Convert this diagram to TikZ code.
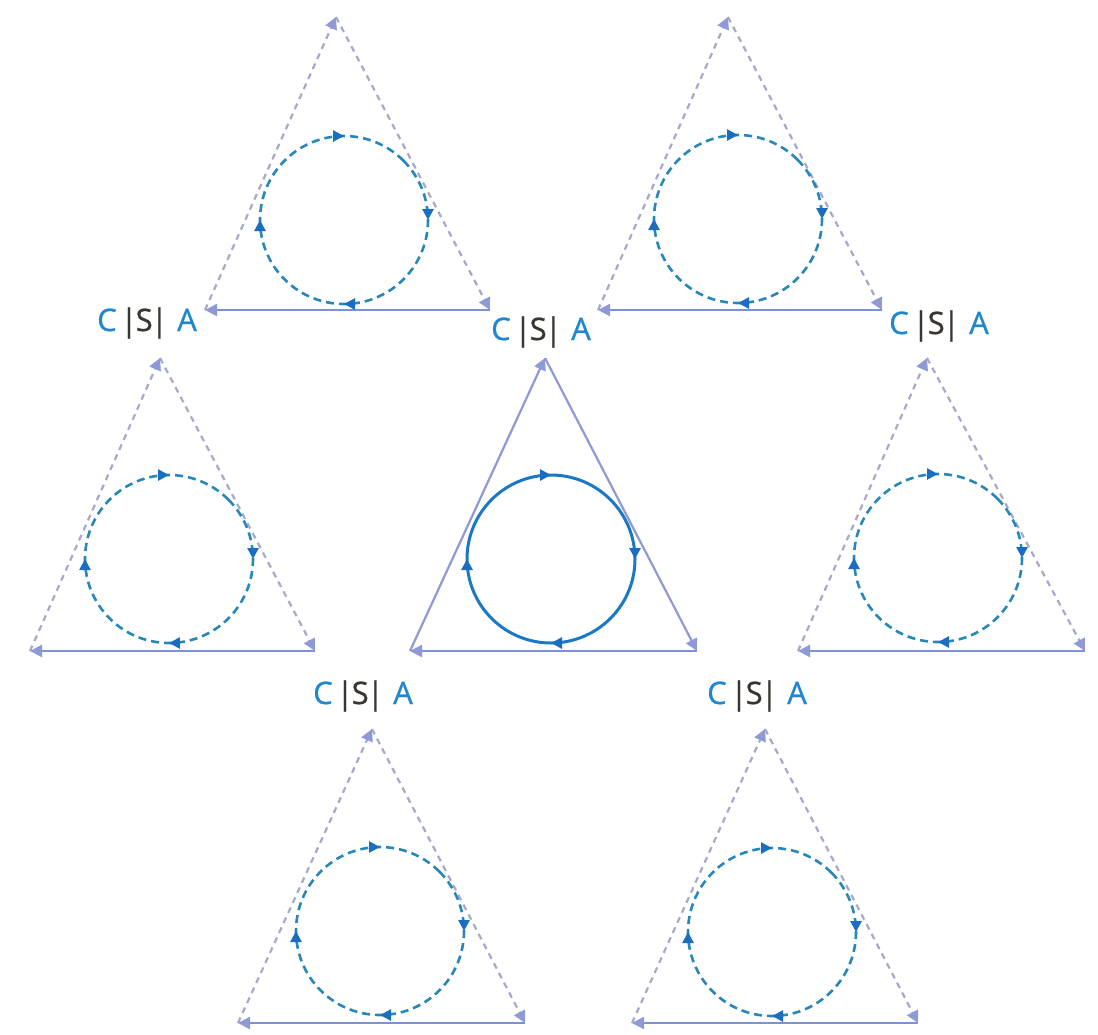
\documentclass[tikz,border=0pt]{standalone}
\usepackage{fontspec}
\setmainfont{Open Sans}
\newfontfamily\labfont[FakeBold=0.8]{Open Sans}
\usetikzlibrary{arrows.meta,decorations.markings}
\definecolor{lav}{HTML}{8E99D6}
\definecolor{lavgrey}{HTML}{A6A8CC}
\definecolor{botblue}{HTML}{7C92D8}
\definecolor{cblue}{HTML}{1B78C4}
\definecolor{dblue}{HTML}{2787B8}
\definecolor{tipblue}{HTML}{1A6EC2}
\definecolor{lblue}{HTML}{1F86D0}
\definecolor{sdark}{HTML}{3A3530}
\tikzset{
  tip/.style={-{Triangle[length=6pt,width=6pt,fill=lav,color=lav]}},
  solidedge/.style={draw=lav,line width=1.1pt,tip},
  dashedge/.style={draw=lavgrey,line width=1.1pt,dash pattern=on 3pt off 2.5pt,tip},
  baseedge/.style={draw=botblue,line width=1.1pt,tip},
  cycmarks/.style={postaction={decorate},decoration={markings,
    mark=at position 0.125 with {\arrow{Triangle[length=5.5pt,width=5.5pt,color=tipblue]}},
    mark=at position 0.375 with {\arrow{Triangle[length=5.5pt,width=5.5pt,color=tipblue]}},
    mark=at position 0.625 with {\arrow{Triangle[length=5.5pt,width=5.5pt,color=tipblue]}},
    mark=at position 0.875 with {\arrow{Triangle[length=5.5pt,width=5.5pt,color=tipblue]}}}},
  solidcyc/.style={draw=cblue,line width=1.5pt,cycmarks},
  dashcyc/.style={draw=dblue,line width=1.3pt,dash pattern=on 4pt off 2.5pt,cycmarks},
  lab/.style={inner sep=0pt,font=\labfont\fontsize{15.5}{18}\selectfont}
}
\newcommand{\csa}{\textcolor{lblue}{C}\hspace{0.12em}\textcolor{sdark}{|\kern-0.06em S\kern-0.06em|}\hspace{0.3em}\textcolor{lblue}{A}}
% \tri{name}{apex}{BL}{BR}{sidestyle}
\newcommand{\tri}[5]{%
  \coordinate (#1a) at (#2);
  \coordinate (#1l) at (#3);
  \coordinate (#1r) at (#4);
  \draw[#5] (#1l) -- (#1a);
  \draw[#5] (#1a) -- (#1r);
  \draw[baseedge] (#1r) -- (#1l);
}
\newcommand{\cyc}[3]{%
  \coordinate (#1c) at (#2);
  \draw[#3] (#1c) ++(-45:84) arc[start angle=-45,end angle=315,radius=84];
}
\begin{document}
\begin{tikzpicture}[x=0.5pt,y=-0.5pt]
\useasboundingbox (0,0) rectangle (1098,1034);
% central
\tri{m}{545,358}{410,651}{697,651}{solidedge}
\cyc{m}{551,559}{solidcyc}
% top-left
\tri{p}{336,17}{205,310}{490,310}{dashedge}
\cyc{p}{344,220}{dashcyc}
% top-right
\tri{q}{728,17}{598,310}{882,310}{dashedge}
\cyc{q}{738,219}{dashcyc}
% middle-left
\tri{u}{160,358}{30,651}{315,651}{dashedge}
\cyc{u}{169,559}{dashcyc}
% middle-right
\tri{v}{927,358}{798,651}{1085,651}{dashedge}
\cyc{v}{938,558}{dashcyc}
% bottom-left
\tri{w}{372,729}{238,1023}{525,1023}{dashedge}
\cyc{w}{380,931}{dashcyc}
% bottom-right
\tri{z}{765,729}{632,1023}{918,1023}{dashedge}
\cyc{z}{772,932}{dashcyc}
% labels
\node[lab] (l1) at (147,323) {\csa};
\node[lab] (l2) at (541,332) {\csa};
\node[lab] (l3) at (939,326) {\csa};
\node[lab] (l4) at (363,696) {\csa};
\node[lab] (l5) at (757,696) {\csa};
\end{tikzpicture}
\end{document}
